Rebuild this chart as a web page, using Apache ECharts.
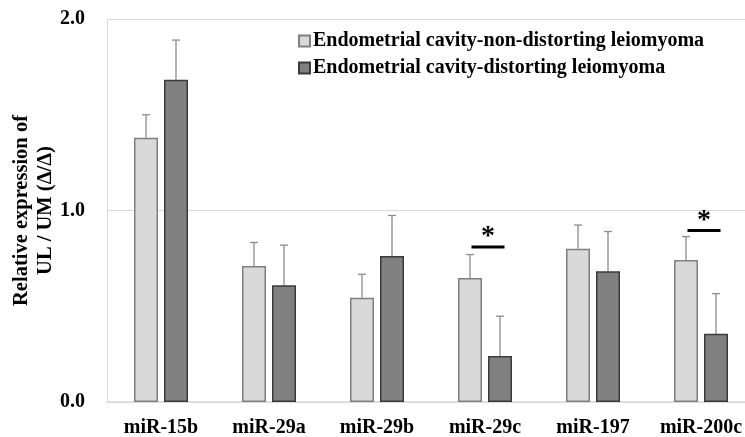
<!DOCTYPE html>
<html>
<head>
<meta charset="utf-8">
<script src="https://cdn.jsdelivr.net/npm/echarts@6/dist/echarts.min.js"></script>
<style>html,body{margin:0;padding:0;background:#fff;}#c{width:745px;height:437px;}</style>
</head>
<body>
<div id="c"></div>
<script>
var categories = ['miR-15b', 'miR-29a', 'miR-29b', 'miR-29c', 'miR-197', 'miR-200c'];
var seriesNames = ['Endometrial cavity-non-distorting leiomyoma', 'Endometrial cavity-distorting leiomyoma'];
var nonDistorting = [1.38, 0.71, 0.545, 0.647, 0.80, 0.742];
var nonDistortingErrTop = [1.50, 0.833, 0.667, 0.77, 0.924, 0.864];
var distorting = [1.683, 0.61, 0.763, 0.24, 0.683, 0.357];
var distortingErrTop = [1.89, 0.819, 0.974, 0.448, 0.89, 0.566];
var significance = [[3, 0.81], [5, 0.895]];
var yTicks = [0, 1, 2];

var FONT = '"Liberation Serif", "Times New Roman", serif';

function errData(vals, tops) {
  return vals.map(function (v, i) { return [i, v, tops[i]]; });
}
function errRender(offset) {
  return function (params, api) {
    var base = api.coord([api.value(0), api.value(1)]);
    var top = api.coord([api.value(0), api.value(2)]);
    var x = base[0] + offset;
    return {
      type: 'group',
      children: [
        { type: 'line', shape: { x1: x, y1: base[1], x2: x, y2: top[1] }, style: { stroke: '#8c8c8c', lineWidth: 1.3 } },
        { type: 'line', shape: { x1: x - 4, y1: top[1], x2: x + 4, y2: top[1] }, style: { stroke: '#8c8c8c', lineWidth: 1.3 } }
      ]
    };
  };
}

var chart = echarts.init(document.getElementById('c'));
chart.setOption({
  animation: false,
  backgroundColor: '#fff',
  grid: { left: 107, top: 19, width: 648, height: 383, containLabel: false, outerBoundsMode: 'none' },
  legend: {
    data: seriesNames,
    orient: 'vertical',
    left: 293,
    top: 26,
    itemWidth: 11,
    itemHeight: 11,
    itemGap: 7,
    icon: 'rect',
    textStyle: { fontFamily: FONT, fontSize: 20, fontWeight: 'bold', color: '#000', padding: [0, 0, 0, -2] }
  },
  xAxis: {
    type: 'category',
    data: categories,
    axisLine: { lineStyle: { color: '#d9d9d9', width: 1.5 } },
    axisTick: { show: false },
    axisLabel: { fontFamily: FONT, fontSize: 20, fontWeight: 'bold', color: '#000', margin: 16 }
  },
  yAxis: {
    type: 'value',
    min: yTicks[0],
    max: yTicks[yTicks.length - 1],
    interval: 1,
    name: 'Relative expression of\nUL / UM (\u0394/\u0394)',
    nameLocation: 'middle',
    nameRotate: 90,
    nameGap: 49,
    nameMoveOverlap: false,
    nameTextStyle: { fontFamily: FONT, fontSize: 20.5, fontWeight: 'bold', color: '#000', lineHeight: 24 },
    axisLine: { show: true, lineStyle: { color: '#d9d9d9' } },
    axisTick: { show: false },
    splitLine: { lineStyle: { color: '#d9d9d9' } },
    axisLabel: { fontFamily: FONT, fontSize: 20, fontWeight: 'bold', color: '#000', margin: 22,
      formatter: function (v) { return v.toFixed(1); } }
  },
  series: [
    {
      name: seriesNames[0], type: 'bar', data: nonDistorting, barWidth: 24, barGap: '25%',
      itemStyle: { color: '#d9d9d9', borderColor: '#808080', borderWidth: 1.5 }
    },
    {
      name: seriesNames[1], type: 'bar', data: distorting, barWidth: 24,
      itemStyle: { color: '#808080', borderColor: '#3a3a3a', borderWidth: 1.5 }
    },
    { type: 'custom', renderItem: errRender(-15), data: errData(nonDistorting, nonDistortingErrTop), z: 1, silent: true },
    { type: 'custom', renderItem: errRender(15), data: errData(distorting, distortingErrTop), z: 1, silent: true },
    {
      type: 'custom', data: significance, silent: true, z: 5,
      renderItem: function (params, api) {
        var p = api.coord([api.value(0), api.value(1)]);
        var cx = p[0] + 3;
        return {
          type: 'group',
          children: [
            { type: 'line', shape: { x1: cx - 16.5, y1: p[1], x2: cx + 16.5, y2: p[1] }, style: { stroke: '#000', lineWidth: 3 } },
            { type: 'text', style: { text: '*', x: cx, y: p[1] - 10, fontFamily: FONT, fontSize: 28, fontWeight: 'bold', fill: '#000', align: 'center', verticalAlign: 'middle' } }
          ]
        };
      }
    }
  ]
});
</script>
</body>
</html>
